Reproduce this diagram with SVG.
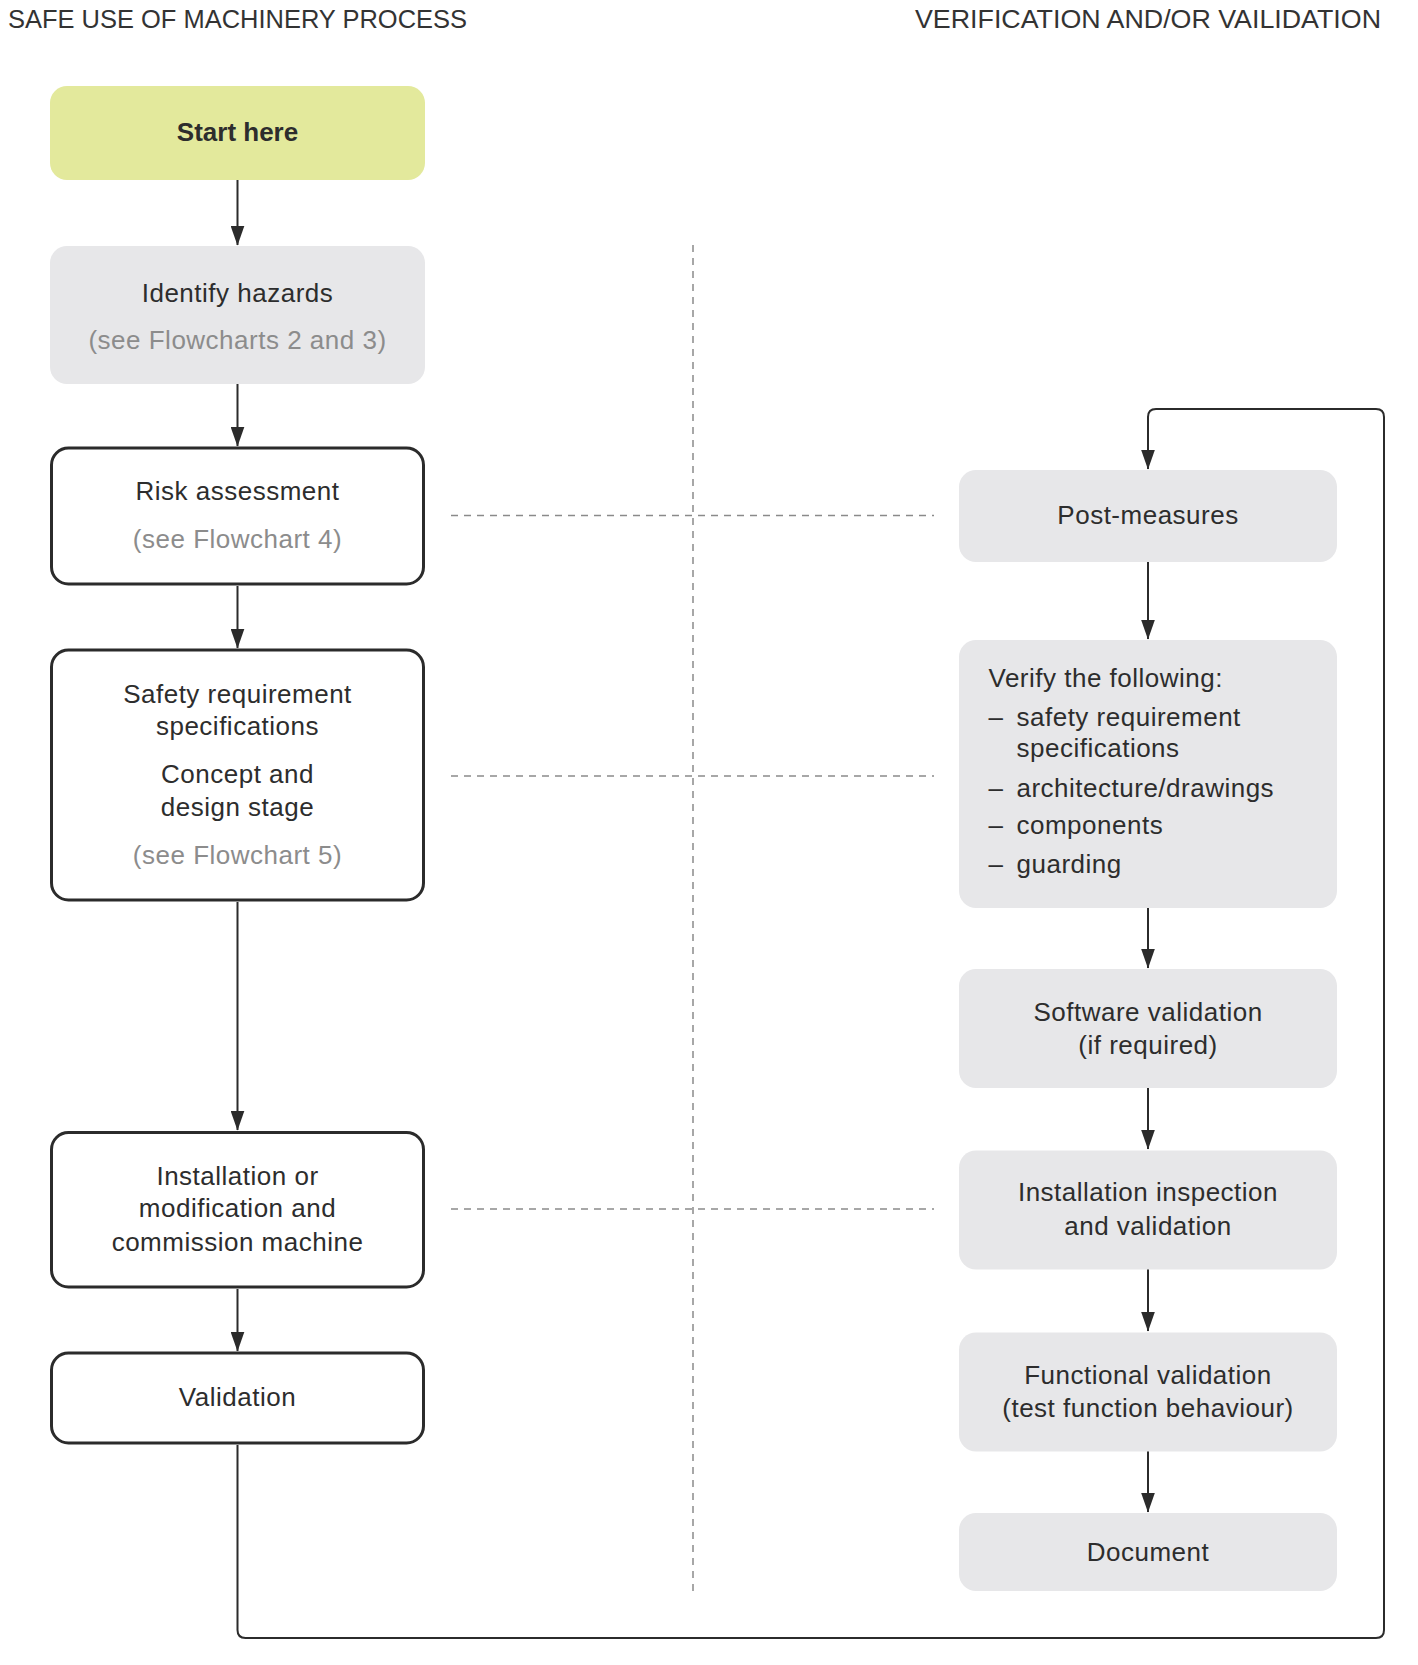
<svg xmlns="http://www.w3.org/2000/svg" width="1418" height="1665" viewBox="0 0 1418 1665">
<style>
.t{font-family:"Liberation Sans",Arial,sans-serif;font-size:26px;fill:#2d2d2d;letter-spacing:0.5px}
.c{text-anchor:middle}
.g{fill:#8c8c8c}
.b{font-weight:bold;letter-spacing:0}
.h{font-family:"Liberation Sans",Arial,sans-serif;font-size:25px;fill:#333333}
.gray{fill:#e7e7e9}
.out{fill:#ffffff;stroke:#2b2b2b;stroke-width:3}
.con{fill:none;stroke:#2b2b2b;stroke-width:2}
.dash{fill:none;stroke:#8a8a8a;stroke-width:1.5;stroke-dasharray:7 6}
</style>
<defs>
<marker id="arr" markerUnits="userSpaceOnUse" markerWidth="20" markerHeight="14" viewBox="0 0 20 14" refX="19.5" refY="7" orient="auto">
<path d="M0 0 L20 7 L0 14 Z" fill="#2b2b2b"/>
</marker>
</defs>
<rect width="1418" height="1665" fill="#ffffff"/>

<g id="headers">
<text class="h" x="8" y="28" textLength="459" lengthAdjust="spacingAndGlyphs">SAFE USE OF MACHINERY PROCESS</text>
<text class="h" x="915" y="28" textLength="466" lengthAdjust="spacingAndGlyphs">VERIFICATION AND/OR VAILIDATION</text>
</g>

<g id="dividers">
<line class="dash" x1="693" y1="245" x2="693" y2="1591"/>
<line class="dash" x1="451" y1="515.5" x2="934" y2="515.5"/>
<line class="dash" x1="451" y1="776" x2="934" y2="776"/>
<line class="dash" x1="451" y1="1209" x2="934" y2="1209"/>
</g>

<g id="connectors">
<line class="con" x1="237.5" y1="180" x2="237.5" y2="245" marker-end="url(#arr)"/>
<line class="con" x1="237.5" y1="384" x2="237.5" y2="446" marker-end="url(#arr)"/>
<line class="con" x1="237.5" y1="586" x2="237.5" y2="648" marker-end="url(#arr)"/>
<line class="con" x1="237.5" y1="902" x2="237.5" y2="1130" marker-end="url(#arr)"/>
<line class="con" x1="237.5" y1="1289" x2="237.5" y2="1351" marker-end="url(#arr)"/>
<path class="con" d="M237.5 1445 V1630 Q237.5 1638 245.5 1638 H1376 Q1384 1638 1384 1630 V417 Q1384 409 1376 409 H1156 Q1148 409 1148 417 V469" marker-end="url(#arr)"/>
<line class="con" x1="1148" y1="562" x2="1148" y2="639" marker-end="url(#arr)"/>
<line class="con" x1="1148" y1="908" x2="1148" y2="968" marker-end="url(#arr)"/>
<line class="con" x1="1148" y1="1088" x2="1148" y2="1149" marker-end="url(#arr)"/>
<line class="con" x1="1148" y1="1269" x2="1148" y2="1331" marker-end="url(#arr)"/>
<line class="con" x1="1148" y1="1451" x2="1148" y2="1512" marker-end="url(#arr)"/>
</g>

<g id="start">
<rect x="50" y="86" width="375" height="94" rx="17" fill="#e3e99c"/>
<text class="t c b" x="237.5" y="141">Start here</text>
</g>

<g id="identify">
<rect class="gray" x="50" y="246" width="375" height="138" rx="17"/>
<text class="t c" x="237.5" y="301.5">Identify hazards</text>
<text class="t c g" x="237.5" y="349">(see Flowcharts 2 and 3)</text>
</g>

<g id="risk">
<rect class="out" x="51.5" y="448" width="372" height="136" rx="17"/>
<text class="t c" x="237.5" y="500">Risk assessment</text>
<text class="t c g" x="237.5" y="548">(see Flowchart 4)</text>
</g>

<g id="safety">
<rect class="out" x="51.5" y="650" width="372" height="250" rx="17"/>
<text class="t c" x="237.5" y="702.5">Safety requirement</text>
<text class="t c" x="237.5" y="734.5">specifications</text>
<text class="t c" x="237.5" y="783">Concept and</text>
<text class="t c" x="237.5" y="815.5">design stage</text>
<text class="t c g" x="237.5" y="864">(see Flowchart 5)</text>
</g>

<g id="installation">
<rect class="out" x="51.5" y="1132.5" width="372" height="154.5" rx="17"/>
<text class="t c" x="237.5" y="1184.5">Installation or</text>
<text class="t c" x="237.5" y="1217">modification and</text>
<text class="t c" x="237.5" y="1250.5">commission machine</text>
</g>

<g id="validation">
<rect class="out" x="51.5" y="1353" width="372" height="90" rx="17"/>
<text class="t c" x="237.5" y="1406">Validation</text>
</g>

<g id="post-measures">
<rect class="gray" x="959" y="470" width="378" height="92" rx="17"/>
<text class="t c" x="1148" y="523.5">Post-measures</text>
</g>

<g id="verify">
<rect class="gray" x="959" y="640" width="378" height="268" rx="17"/>
<text class="t" x="988.5" y="687">Verify the following:</text>
<text class="t" x="988.5" y="725.5">–</text>
<text class="t" x="1016.5" y="725.5">safety requirement</text>
<text class="t" x="1016.5" y="757">specifications</text>
<text class="t" x="988.5" y="797">–</text>
<text class="t" x="1016.5" y="797">architecture/drawings</text>
<text class="t" x="988.5" y="834">–</text>
<text class="t" x="1016.5" y="834">components</text>
<text class="t" x="988.5" y="872.5">–</text>
<text class="t" x="1016.5" y="872.5">guarding</text>
</g>

<g id="software">
<rect class="gray" x="959" y="969" width="378" height="119" rx="17"/>
<text class="t c" x="1148" y="1021">Software validation</text>
<text class="t c" x="1148" y="1053.5">(if required)</text>
</g>

<g id="inspection">
<rect class="gray" x="959" y="1150.5" width="378" height="119" rx="17"/>
<text class="t c" x="1148" y="1201">Installation inspection</text>
<text class="t c" x="1148" y="1235">and validation</text>
</g>

<g id="functional">
<rect class="gray" x="959" y="1332.5" width="378" height="119" rx="17"/>
<text class="t c" x="1148" y="1383.5">Functional validation</text>
<text class="t c" x="1148" y="1417">(test function behaviour)</text>
</g>

<g id="document">
<rect class="gray" x="959" y="1513" width="378" height="78" rx="17"/>
<text class="t c" x="1148" y="1560.5">Document</text>
</g>
</svg>
